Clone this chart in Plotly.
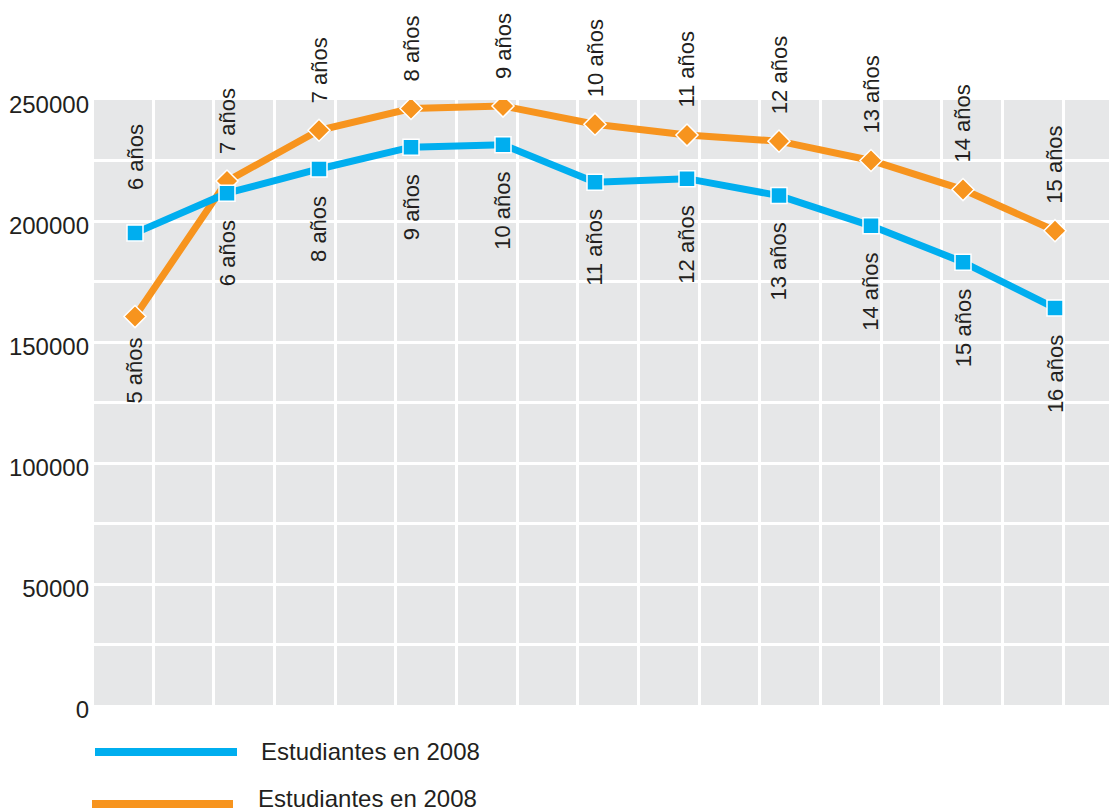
import plotly.graph_objects as go

# Students per age, two series
blue_values = [195000, 211500, 221500, 230500, 231500, 216000, 217500, 210500, 198000, 183000, 164000]
orange_values = [160500, 216500, 237500, 246500, 247500, 240000, 235500, 233000, 225000, 213000, 196000]

blue_labels = ["6 años", "6 años", "8 años", "9 años", "10 años", "11 años",
               "12 años", "13 años", "14 años", "15 años", "16 años"]
orange_labels = ["5 años", "7 años", "7 años", "8 años", "9 años", "10 años",
                 "11 años", "12 años", "13 años", "14 años", "15 años"]

legend_names = ["Estudiantes en 2008", "Estudiantes en 2008"]
y_ticks = [0, 50000, 100000, 150000, 200000, 250000]

BLUE = "#00AEEF"
ORANGE = "#F7941E"
BG = "#E6E7E8"
TXT = "#231F20"
FONT = "Liberation Sans, Arial, sans-serif"

W, H = 1109, 812
PL, PR, PT, PB = 94, 0, 100, 107
x_pos = list(range(len(blue_values)))


def px(x):
    return (x - PL) / (W - PL - PR)


def py(y):
    return (H - PB - y) / (H - PT - PB)


fig = go.Figure()
fig.add_trace(go.Scatter(
    x=x_pos, y=orange_values, mode="lines+markers",
    line=dict(color=ORANGE, width=7),
    marker=dict(symbol="diamond", size=17, color=ORANGE, line=dict(color="white", width=1.5)),
    name=legend_names[1], showlegend=False,
))
fig.add_trace(go.Scatter(
    x=x_pos, y=blue_values, mode="lines+markers",
    line=dict(color=BLUE, width=7),
    marker=dict(symbol="square", size=16, color=BLUE, line=dict(color="white", width=1.5)),
    name=legend_names[0], showlegend=False,
))

gap = 25
annotations = []
for i, (v, t) in enumerate(zip(orange_values, orange_labels)):
    above = i > 0
    annotations.append(dict(
        x=i, y=v, text=t, showarrow=False, textangle=-90,
        yanchor="bottom" if above else "top", yshift=gap if above else -gap + 6,
        font=dict(size=22, color=TXT, family=FONT),
    ))
for i, (v, t) in enumerate(zip(blue_values, blue_labels)):
    above = i == 0
    annotations.append(dict(
        x=i, y=v, text=t, showarrow=False, textangle=-90,
        yanchor="bottom" if above else "top", yshift=gap + 16 if above else -gap,
        font=dict(size=22, color=TXT, family=FONT),
    ))

# hand-drawn legend, long line swatches like the original
shapes = []
for (x0, x1, yy), color, (tx, ty), name in zip(
        [(95, 237, 752), (92, 233, 804)], [BLUE, ORANGE], [(259, 751), (256, 798)], legend_names):
    shapes.append(dict(type="line", xref="paper", yref="paper",
                       x0=px(x0), x1=px(x1), y0=py(yy), y1=py(yy),
                       line=dict(color=color, width=8)))
    annotations.append(dict(x=px(tx), y=py(ty), xref="paper", yref="paper",
                            xanchor="left", yanchor="middle", showarrow=False,
                            text=name, font=dict(size=24, color=TXT, family=FONT)))

fig.update_layout(
    width=W, height=H,
    margin=dict(l=PL, r=PR, t=PT, b=PB, pad=0),
    paper_bgcolor="white", plot_bgcolor=BG,
    font=dict(family=FONT, size=22, color=TXT),
    annotations=annotations, shapes=shapes,
    showlegend=False,
)
fig.update_xaxes(
    range=[(PL - 135) / 92, (W - 135) / 92],
    tick0=0.196, dtick=0.6595, showticklabels=False, ticks="",
    showgrid=True, gridcolor="white", gridwidth=2.5, zeroline=False, showline=False,
)
fig.update_yaxes(
    range=[0, 250000], tickvals=y_ticks, ticktext=[str(v) for v in y_ticks],
    showgrid=True, gridcolor="white", gridwidth=2.5, zeroline=False, showline=False,
    minor=dict(dtick=25000, tick0=0, showgrid=True, gridcolor="white", gridwidth=2.5),
    ticks="", ticklabelstandoff=4, ticklabelshift=5,
    tickfont=dict(size=24, color=TXT, family=FONT),
)

fig.write_html("out.html", config={"displayModeBar": False},
               post_script="document.body.style.margin='0';")
